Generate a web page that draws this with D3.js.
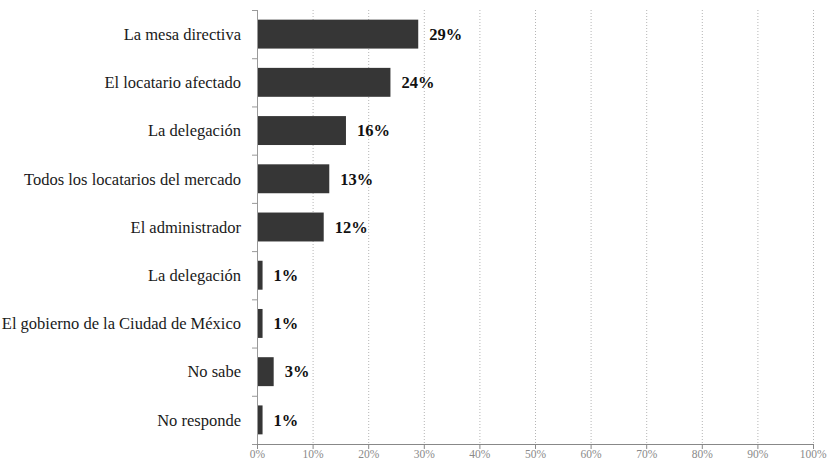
<!DOCTYPE html>
<html>
<head>
<meta charset="utf-8">
<script src="https://cdn.jsdelivr.net/npm/d3@7"></script>
<style>
  html, body { margin: 0; padding: 0; background: #fff; }
  svg { display: block; }
  .cat { font-family: Georgia, "Liberation Serif", serif; font-size: 16.5px; fill: #1a1a1a; }
  .val { font-family: Georgia, "Liberation Serif", serif; font-size: 16.5px; font-weight: bold; fill: #111; }
  .tick-x text { font-family: Georgia, "Liberation Serif", serif; font-size: 11.5px; fill: #8a8a8a; }
</style>
</head>
<body>
<svg id="chart" width="828" height="463"></svg>
<script>
// Who should resolve a market problem (share of responses)
const categories = [
  "La mesa directiva",
  "El locatario afectado",
  "La delegación",
  "Todos los locatarios del mercado",
  "El administrador",
  "La delegación ",
  "El gobierno de la Ciudad de México",
  "No sabe",
  "No responde"
];
const values = [29, 24, 16, 13, 12, 1, 1, 3, 1];
const xTicks = [0, 10, 20, 30, 40, 50, 60, 70, 80, 90, 100];

const svg = d3.select("#chart");
const margin = { top: 10, right: 15, bottom: 19, left: 257 };
const W = 828, H = 463;

const x = d3.scaleLinear().domain([0, 100]).range([margin.left, W - margin.right]);
const y = d3.scaleBand().domain(categories).range([margin.top, H - margin.bottom]).paddingInner(0.4).paddingOuter(0.2);

// dotted vertical gridlines
svg.append("g")
  .selectAll("line")
  .data(xTicks.filter(d => d > 0))
  .join("line")
  .attr("x1", d => x(d) + 0.5).attr("x2", d => x(d) + 0.5)
  .attr("y1", margin.top).attr("y2", H - margin.bottom)
  .attr("stroke", "#b5b5b5")
  .attr("stroke-width", 1)
  .attr("stroke-dasharray", "1,2");

// bars
svg.append("g")
  .selectAll("rect")
  .data(values)
  .join("rect")
  .attr("x", x(0))
  .attr("y", (d, i) => y(categories[i]))
  .attr("width", d => x(d) - x(0))
  .attr("height", y.bandwidth())
  .attr("fill", "#363636");

// value labels
svg.append("g")
  .selectAll("text")
  .data(values)
  .join("text")
  .attr("class", "val")
  .attr("x", d => x(d) + 11)
  .attr("y", (d, i) => y(categories[i]) + y.bandwidth() / 2)
  .attr("dy", "0.35em")
  .text(d => d + "%");

// category axis: vertical line with outer ticks at band boundaries
const step = y.step();
const yAxis = svg.append("g");
yAxis.append("line")
  .attr("x1", margin.left + 0.5).attr("x2", margin.left + 0.5)
  .attr("y1", margin.top).attr("y2", H - margin.bottom)
  .attr("stroke", "#999");
yAxis.selectAll("line.tk")
  .data(d3.range(categories.length + 1))
  .join("line")
  .attr("class", "tk")
  .attr("x1", margin.left - 5).attr("x2", margin.left)
  .attr("y1", i => margin.top + i * step + 0.5)
  .attr("y2", i => margin.top + i * step + 0.5)
  .attr("stroke", "#999");
yAxis.selectAll("text")
  .data(categories)
  .join("text")
  .attr("class", "cat")
  .attr("x", margin.left - 16)
  .attr("y", d => y(d) + y.bandwidth() / 2)
  .attr("dy", "0.35em")
  .attr("text-anchor", "end")
  .text(d => d.trim());

// percentage axis
const xAxis = svg.append("g")
  .attr("class", "tick-x")
  .attr("transform", `translate(0,${H - margin.bottom})`)
  .call(d3.axisBottom(x).tickValues(xTicks).tickFormat(d => d + "%").tickSize(5).tickPadding(2));
xAxis.select(".domain").attr("stroke", "#888");
xAxis.selectAll(".tick line").attr("stroke", "#888");
xAxis.selectAll(".tick text").attr("dy", "0.62em");
// keep the last label inside the frame
xAxis.selectAll(".tick text").filter(d => d === 100).attr("text-anchor", "end").attr("x", 13);
</script>
</body>
</html>
